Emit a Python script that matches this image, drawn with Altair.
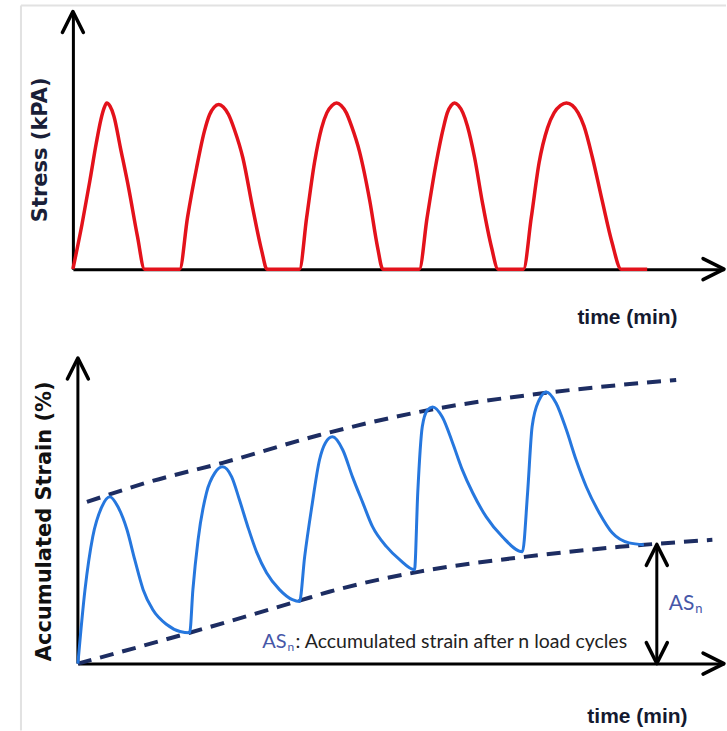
import altair as alt
import pandas as pd

# ---------------- data ----------------
# Top panel: cyclic stress pulses (time in arbitrary minute units, stress in kPa)
stress_time = [0, 1.4, 2.6, 3.6, 4.3, 4.8, 5.2, 5.7, 6.3, 7.3, 8.6, 9.9, 11.0,
               16.4, 17.6, 19.0, 20.2, 21.0, 21.7, 22.4, 23.1, 23.9, 24.8, 26.1, 27.6, 29.0, 29.8,
               34.8, 35.9, 37.1, 38.2, 39.0, 39.8, 40.5, 41.2, 42.0, 42.8, 44.0, 45.6, 46.8, 47.6,
               53.2, 54.4, 55.8, 56.9, 57.5, 58.1, 58.6, 59.2, 59.9, 60.6, 61.7, 62.9, 64.3, 65.3,
               69.2, 70.4, 71.6, 72.9, 73.9, 74.9, 75.8, 76.7, 77.6, 78.5, 79.8, 81.3, 82.8, 84.2,
               88.2]
stress_kpa = [0, 27, 53, 76, 90, 97, 100, 98, 92, 73, 48, 20, 0,
              0, 31, 61, 83, 93, 97.5, 99, 97.5, 93, 84, 67, 37, 11, 0,
              0, 31, 64, 85, 94, 98.5, 100, 98.5, 94, 86, 71, 41, 13, 0,
              0, 31, 64, 85, 94, 98.5, 100, 98.5, 94, 86, 67, 40, 13, 0,
              0, 31, 64, 85, 94, 98.5, 100, 98.5, 94, 86, 67, 41, 16, 0,
              0]

# Bottom panel: accumulated strain (%)
strain_time = [0, 1.1, 2.3, 3.7, 4.95, 6.2, 7.6, 8.8, 10.1, 11.6, 13.8, 15.8, 17.3,
               17.8, 18.6, 19.9, 21.2, 22.4, 23.8, 25.0, 26.3, 27.7, 29.2, 31.2, 33.2, 34.3,
               35.1, 36.2, 37.4, 38.3, 39.4, 41.0, 42.5, 44.1, 45.6, 47.8, 49.8, 52.1,
               52.6, 53.3, 54.1, 54.9, 56.4, 58.0, 59.5, 61.1, 63.2, 65.7, 68.8,
               69.6, 70.3, 71.4, 72.5, 74.0, 75.6, 77.1, 78.7, 80.7, 82.7, 85.3, 87.6]
strain_pct = [0, 2.42, 4.15, 5.13, 5.46, 5.13, 4.38, 3.40, 2.42, 1.76, 1.27, 1.05, 1.01,
              2.42, 4.05, 5.59, 6.24, 6.44, 6.11, 5.36, 4.48, 3.63, 2.97, 2.42, 2.09, 2.03,
              3.50, 5.13, 6.67, 7.22, 7.42, 6.99, 6.11, 5.26, 4.48, 3.82, 3.40, 3.07,
              5.59, 7.75, 8.30, 8.40, 8.07, 7.22, 6.34, 5.59, 4.80, 4.15, 3.66,
              5.59, 7.75, 8.63, 8.89, 8.53, 7.65, 6.67, 5.78, 4.93, 4.28, 3.95, 3.89]

upper_env_time = [1.4, 11.1, 22.4, 37.4, 54.4, 72.5, 92.6]
upper_env_pct = [5.29, 5.95, 6.57, 7.48, 8.30, 8.86, 9.28]
lower_env_time = [0.0, 17.3, 34.3, 38.9, 52.9, 69.4, 83.8, 98.2]
lower_env_pct = [0.0, 1.01, 2.06, 2.35, 3.01, 3.50, 3.82, 4.05]

as_n_time = 89.6
as_n_pct = 3.9

note_time, note_pct = 32.3, 0.52        # anchor of the "ASn: ..." note
side_time, side_pct = 95.4, 1.76        # anchor of the "ASn" label by the arrow
note_text = ": Accumulated strain after n load cycles"

TIME_MAX = 100
STRESS_MAX = 155
STRAIN_MAX = 10

# ---------------- styles ----------------
W = 652
H_TOP = 258
H_BOT = 306
RED = "#e3121b"
BLUE = "#2677de"
NAVY = "#1d2d62"
LBL_BLUE = "#4657a8"
UP = "M-1,2L0,0L1,2"
DOWN = "M-1,-2L0,0L1,-2"
RIGHT = "M-2,-1L0,0L-2,1"
ARROW_SIZE = 441
TITLE_FONT = "DejaVu Sans"
NOTE_FONT = "Lato"


def arrow(chart_df, x, y, shape):
    return alt.Chart(chart_df).mark_point(
        shape=shape, size=ARROW_SIZE, filled=False, stroke="black",
        strokeWidth=3.5, opacity=1, strokeCap="round", strokeJoin="round"
    ).encode(x=x, y=y)


# ---------------- top panel ----------------
top_df = pd.DataFrame({"t": stress_time, "v": stress_kpa})

x_top = alt.X("t:Q", scale=alt.Scale(domain=[0, TIME_MAX], nice=False),
              axis=alt.Axis(title="time (min)", labels=False, ticks=False, grid=False,
                            domainColor="black", domainWidth=3,
                            titleFont="Liberation Sans", titleFontSize=21,
                            titleFontWeight="bold", titleColor="#141a30",
                            titleX=605, titleY=48, titleAlign="right",
                            titleBaseline="middle"))
y_top = alt.Y("v:Q", scale=alt.Scale(domain=[0, STRESS_MAX], nice=False),
              axis=alt.Axis(title="Stress (kPA)", labels=False, ticks=False, grid=False,
                            domainColor="black", domainWidth=3,
                            titleFont=TITLE_FONT, titleFontSize=21,
                            titleFontWeight="bold", titleColor="#1a1f38",
                            titleX=-32, titleY=138, titleAlign="center",
                            titleBaseline="middle"))

stress_line = alt.Chart(top_df).mark_line(
    color=RED, strokeWidth=3.5, interpolate="monotone"
).encode(x=x_top, y=y_top)

top_up = arrow(pd.DataFrame({"t": [0], "v": [STRESS_MAX]}), x_top, y_top, UP)
top_right = arrow(pd.DataFrame({"t": [TIME_MAX], "v": [0]}), x_top, y_top, RIGHT)

one = pd.DataFrame({"k": [0]})
frame_top = alt.Chart(one).mark_rule(color="#e2e2e2", strokeWidth=2).encode(
    x=alt.value(-52), x2=alt.value(654), y=alt.value(-6))
frame_left = alt.Chart(one).mark_rule(color="#e2e2e2", strokeWidth=2).encode(
    x=alt.value(-52), y=alt.value(-6), y2=alt.value(720))

top = alt.layer(frame_top, frame_left, stress_line, top_up, top_right).properties(
    width=W, height=H_TOP)

# ---------------- bottom panel ----------------
x_bot = alt.X("t:Q", scale=alt.Scale(domain=[0, TIME_MAX], range=[5, W], nice=False),
              axis=alt.Axis(title="time (min)", labels=False, ticks=False, grid=False,
                            domainColor="black", domainWidth=3,
                            titleFont="Liberation Sans", titleFontSize=21,
                            titleFontWeight="bold", titleColor="#141a30",
                            titleX=615, titleY=53, titleAlign="right",
                            titleBaseline="middle"))
y_bot = alt.Y("s:Q", scale=alt.Scale(domain=[0, STRAIN_MAX], nice=False),
              axis=alt.Axis(title="Accumulated Strain (%)", labels=False, ticks=False,
                            grid=False, domain=False,
                            titleFont=TITLE_FONT, titleFontSize=21,
                            titleFontWeight="bold", titleColor="#111111",
                            titleX=-28, titleY=163, titleAlign="center",
                            titleBaseline="middle"))

strain_df = pd.DataFrame({"t": strain_time, "s": strain_pct})
upper_df = pd.DataFrame({"t": upper_env_time, "s": upper_env_pct})
lower_df = pd.DataFrame({"t": lower_env_time, "s": lower_env_pct})

y_axis_line = alt.Chart(pd.DataFrame({"t": [0], "s": [0], "s2": [STRAIN_MAX]})).mark_rule(
    color="black", strokeWidth=3).encode(x=x_bot, y=y_bot, y2="s2:Q")

env_upper = alt.Chart(upper_df).mark_line(
    color=NAVY, strokeWidth=4, strokeDash=[14, 9], interpolate="monotone"
).encode(x=x_bot, y=y_bot)
env_lower = alt.Chart(lower_df).mark_line(
    color=NAVY, strokeWidth=4, strokeDash=[14, 9], interpolate="monotone"
).encode(x=x_bot, y=y_bot)

strain_line = alt.Chart(strain_df).mark_line(
    color=BLUE, strokeWidth=3, interpolate="monotone"
).encode(x=x_bot, y=y_bot)

asn_rule = alt.Chart(pd.DataFrame({"t": [as_n_time], "s": [0], "s2": [as_n_pct]})).mark_rule(
    color="black", strokeWidth=3).encode(x=x_bot, y=y_bot, y2="s2:Q")
asn_up = arrow(pd.DataFrame({"t": [as_n_time], "s": [as_n_pct]}), x_bot, y_bot, UP)
asn_down = arrow(pd.DataFrame({"t": [as_n_time], "s": [0]}), x_bot, y_bot, DOWN)

bot_up = arrow(pd.DataFrame({"t": [0], "s": [STRAIN_MAX]}), x_bot, y_bot, UP)
bot_right = arrow(pd.DataFrame({"t": [TIME_MAX], "s": [0]}), x_bot, y_bot, RIGHT)

note_df = pd.DataFrame({"t": [note_time], "s": [note_pct]})
side_df = pd.DataFrame({"t": [side_time], "s": [side_pct]})

note_as = alt.Chart(note_df).mark_text(
    text="AS", align="right", baseline="alphabetic", font=NOTE_FONT, fontSize=20,
    color=LBL_BLUE).encode(x=x_bot, y=y_bot)
note_n = alt.Chart(note_df).mark_text(
    text="n", align="left", baseline="alphabetic", font=NOTE_FONT, fontSize=12,
    color=LBL_BLUE, dx=1, dy=3).encode(x=x_bot, y=y_bot)
note_rest = alt.Chart(note_df).mark_text(
    text=note_text, align="left", baseline="alphabetic", font=NOTE_FONT, fontSize=19.5,
    color="#222222", dx=9).encode(x=x_bot, y=y_bot)

side_as = alt.Chart(side_df).mark_text(
    text="AS", align="right", baseline="alphabetic", font=NOTE_FONT, fontSize=21,
    color=LBL_BLUE).encode(x=x_bot, y=y_bot)
side_n = alt.Chart(side_df).mark_text(
    text="n", align="left", baseline="alphabetic", font=NOTE_FONT, fontSize=13,
    color=LBL_BLUE, dx=1, dy=3).encode(x=x_bot, y=y_bot)

bottom = alt.layer(
    y_axis_line, env_upper, env_lower, strain_line, asn_rule, asn_up, asn_down,
    bot_up, bot_right, note_as, note_n, note_rest, side_as, side_n
).properties(width=W, height=H_BOT)

chart = alt.vconcat(top, bottom, spacing=89, bounds="flush").properties(
    padding={"left": 20, "top": 4, "right": 0, "bottom": 0},
    background="white"
).configure_view(stroke=None)

chart.save("out.html", embed_options={"renderer": "svg", "actions": False})
